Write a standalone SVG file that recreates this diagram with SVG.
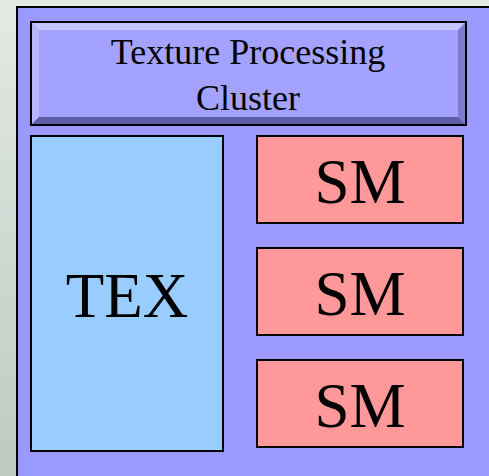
<svg xmlns="http://www.w3.org/2000/svg" width="489" height="476" viewBox="0 0 489 476">
<defs>
<linearGradient id="bg" x1="0" y1="0" x2="0" y2="1">
<stop offset="0" stop-color="#e4e9e4"/>
<stop offset="1" stop-color="#bccac2"/>
</linearGradient>
<style>
.box{stroke:#000;stroke-width:2}
text{font-family:'Liberation Serif','Times New Roman',serif;fill:#000;text-anchor:middle}
</style>
</defs>
<rect x="0" y="0" width="489" height="476" fill="url(#bg)"/>
<g id="cluster">
<rect class="box" x="17" y="7" width="480" height="480" fill="#9999ff"/>
</g>
<g id="title">
<rect x="31" y="22" width="435" height="103" fill="#a3a3ff"/>
<polygon points="31,22 466,22 458,30 39,30" fill="#c6c6ff"/>
<polygon points="31,22 39,30 39,117 31,125" fill="#b6b6ff"/>
<polygon points="466,22 466,125 458,117 458,30" fill="#7d7dcc"/>
<polygon points="31,125 466,125 458,117 39,117" fill="#5e5ea8"/>
<rect x="31" y="22" width="435" height="103" fill="none" class="box"/>
<text font-family="Liberation Serif, serif" x="248" y="64" font-size="36">Texture Processing</text>
<text font-family="Liberation Serif, serif" x="248" y="110" font-size="36">Cluster</text>
</g>
<g id="tex">
<rect class="box" x="31" y="136" width="192" height="315" fill="#99ccff"/>
<text font-family="Liberation Serif, serif" x="127" y="317" font-size="63">TEX</text>
</g>
<g id="sm1">
<rect class="box" x="257" y="136" width="206" height="87" fill="#ff9999"/>
<text font-family="Liberation Serif, serif" x="360" y="203" font-size="63">SM</text>
</g>
<g id="sm2">
<rect class="box" x="257" y="248" width="206" height="87" fill="#ff9999"/>
<text font-family="Liberation Serif, serif" x="360" y="315" font-size="63">SM</text>
</g>
<g id="sm3">
<rect class="box" x="257" y="360" width="206" height="87" fill="#ff9999"/>
<text font-family="Liberation Serif, serif" x="360" y="427" font-size="63">SM</text>
</g>
<g id="connectors"/>
</svg>
